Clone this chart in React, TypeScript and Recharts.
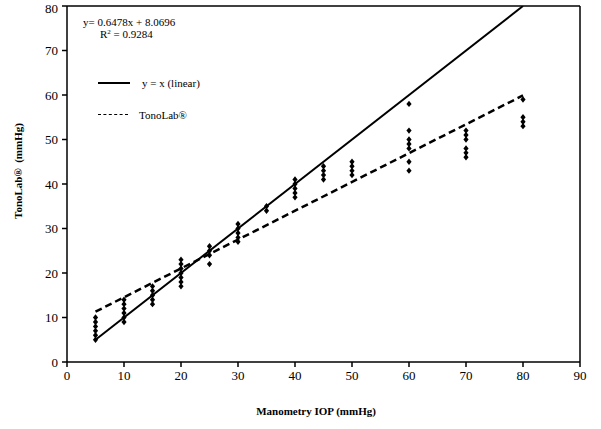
import React from 'react';
import {
  ComposedChart,
  Scatter,
  XAxis,
  YAxis,
  ReferenceLine,
} from 'recharts';

// Manometry IOP levels (mmHg) and TonoLab readings at each level
const manometryLevels = [5, 10, 15, 20, 25, 30, 35, 40, 45, 50, 60, 70, 80];
const tonoLabReadings = [
  [5, 6, 7, 8, 9, 10],
  [9, 10, 11, 12, 13, 14],
  [13, 14, 15, 16, 17],
  [17, 18, 19, 20, 21, 22, 23],
  [22, 24, 25, 26],
  [27, 28, 29, 30, 31],
  [34, 35],
  [37, 38, 39, 40, 41],
  [41, 42, 43, 44],
  [42, 43, 44, 45],
  [43, 45, 48, 49, 50, 52, 58],
  [46, 47, 48, 50, 51, 52],
  [53, 54, 55, 59],
];

const lineRange = [5, 80];
const fitSlope = 0.6478;
const fitIntercept = 8.0696;
const rSquared = 0.9284;

const xTicks = [0, 10, 20, 30, 40, 50, 60, 70, 80, 90];
const yTicks = [0, 10, 20, 30, 40, 50, 60, 70, 80];

const xTitle = 'Manometry IOP (mmHg)';
const yTitle = 'TonoLab®\u00a0\u00a0(mmHg)';

const points = manometryLevels.flatMap((x, i) =>
  tonoLabReadings[i].map((y) => ({ x, y }))
);
const identityLine = lineRange.map((x) => ({ x, y: x }));
const fitLine = lineRange.map((x) => ({ x, y: fitSlope * x + fitIntercept }));

const FONT = '"Liberation Serif", "Times New Roman", "DejaVu Serif", serif';

const NoShape = () => <g />;

const Diamond = (props: any) => {
  const { cx, cy } = props;
  if (cx == null || cy == null) return <g />;
  const w = 2.6;
  const h = 3.2;
  return (
    <polygon
      points={`${cx},${cy - h} ${cx + w},${cy} ${cx},${cy + h} ${cx - w},${cy}`}
      fill="#000"
    />
  );
};

const textStyle: React.CSSProperties = {
  position: 'absolute',
  fontFamily: FONT,
  fontSize: 11,
  lineHeight: '12px',
  whiteSpace: 'nowrap',
  color: '#000',
};

const titleStyle: React.CSSProperties = {
  ...textStyle,
  fontWeight: 'bold',
  fontSize: 11,
};

export default function App() {
  return (
    <div style={{ position: 'absolute', left: 0, top: 0, width: 601, height: 429, background: '#fff' }}>
      <ComposedChart
        width={601}
        height={429}
        margin={{ top: 6, right: 21, bottom: 0, left: 0 }}
      >
        <XAxis
          type="number"
          dataKey="x"
          domain={[0, 90]}
          ticks={xTicks}
          height={67}
          stroke="#000"
          strokeWidth={1.5}
          tickSize={5}
          tick={{ fill: '#000', fontSize: 13, fontFamily: FONT }}
          tickMargin={4}
          allowDataOverflow
        />
        <YAxis
          type="number"
          dataKey="y"
          domain={[0, 80]}
          ticks={yTicks}
          width={67}
          stroke="#000"
          strokeWidth={1.5}
          tickSize={5}
          tickMargin={4}
          tick={{ fill: '#000', fontSize: 13, fontFamily: FONT }}
          allowDataOverflow
        />
        <ReferenceLine y={80} stroke="#000" strokeWidth={1.5} />
        <ReferenceLine x={90} stroke="#000" strokeWidth={1.5} />
        <Scatter
          data={identityLine}
          line={{ stroke: '#000', strokeWidth: 2 }}
          shape={NoShape}
          isAnimationActive={false}
          legendType="none"
        />
        <Scatter
          data={fitLine}
          line={{ stroke: '#000', strokeWidth: 2.5, strokeDasharray: '7 4' }}
          shape={NoShape}
          isAnimationActive={false}
          legendType="none"
        />
        <Scatter
          data={points}
          shape={Diamond}
          fill="#000"
          isAnimationActive={false}
          legendType="none"
        />
      </ComposedChart>
      <div style={{ ...titleStyle, left: 316, top: 405, transform: 'translateX(-50%)' }}>{xTitle}</div>
      <div
        style={{
          ...titleStyle,
          left: 18,
          top: 171,
          transform: 'translate(-50%, -50%) rotate(-90deg)',
        }}
      >
        {yTitle}
      </div>
      <div style={{ position: 'absolute', left: 83, top: 16, width: 200, height: 120, pointerEvents: 'none' }}>
        <div style={{ ...textStyle, left: 0, top: 0 }}>
          y= {fitSlope}x + {fitIntercept}
        </div>
        <div style={{ ...textStyle, left: 17, top: 12 }}>
          R<sup style={{ fontSize: 7, verticalAlign: 'top', lineHeight: '8px' }}>2</sup> = {rSquared}
        </div>
        <div style={{ position: 'absolute', left: 15, top: 66, width: 32, borderTop: '2px solid #000' }} />
        <div style={{ ...textStyle, left: 59, top: 61 }}>y = x (linear)</div>
        <div style={{ position: 'absolute', left: 15, top: 98, width: 30, borderTop: '1px dashed #000' }} />
        <div style={{ ...textStyle, left: 56, top: 93 }}>TonoLab®</div>
      </div>
    </div>
  );
}
